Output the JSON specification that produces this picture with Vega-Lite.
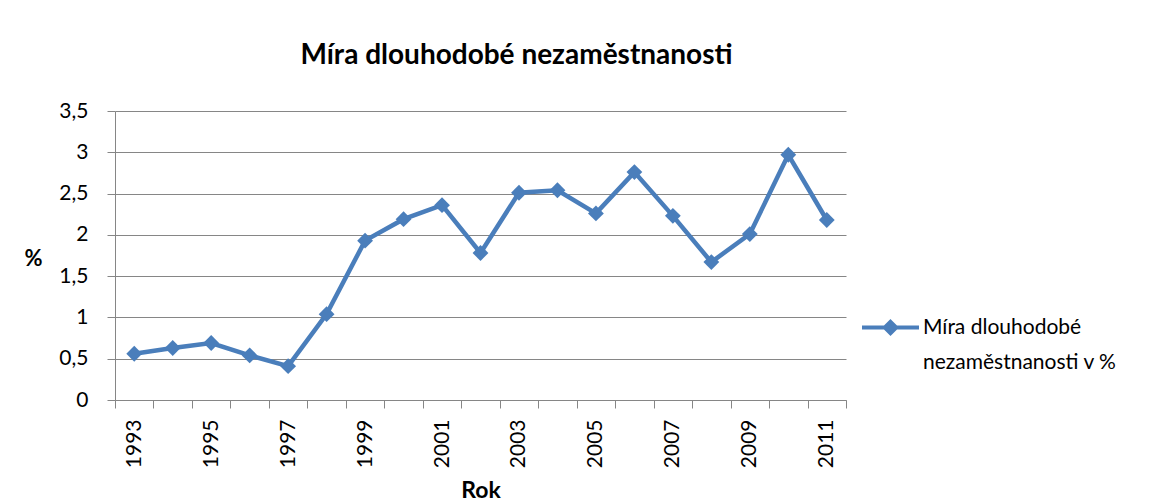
{
  "$schema": "https://vega.github.io/schema/vega-lite/v6.json",
  "width": 731,
  "height": 289,
  "autosize": "none",
  "padding": {"left": 115, "top": 111, "right": 303, "bottom": 103},
  "background": "white",
  "config": {
    "view": {"stroke": null},
    "font": "Lato",
    "style": {"guide-label": {"lineHeight": 35}}
  },
  "title": {
    "text": "Míra dlouhodobé nezaměstnanosti",
    "font": "Lato",
    "fontSize": 28,
    "fontWeight": "bold",
    "color": "#000000",
    "anchor": "middle",
    "frame": "group",
    "dx": 36,
    "offset": 30
  },
  "data": {
    "values": [
      {"rok": 1993, "hodnota": 0.56, "serie": "Míra dlouhodobé nezaměstnanosti v %"},
      {"rok": 1994, "hodnota": 0.63, "serie": "Míra dlouhodobé nezaměstnanosti v %"},
      {"rok": 1995, "hodnota": 0.69, "serie": "Míra dlouhodobé nezaměstnanosti v %"},
      {"rok": 1996, "hodnota": 0.54, "serie": "Míra dlouhodobé nezaměstnanosti v %"},
      {"rok": 1997, "hodnota": 0.41, "serie": "Míra dlouhodobé nezaměstnanosti v %"},
      {"rok": 1998, "hodnota": 1.04, "serie": "Míra dlouhodobé nezaměstnanosti v %"},
      {"rok": 1999, "hodnota": 1.93, "serie": "Míra dlouhodobé nezaměstnanosti v %"},
      {"rok": 2000, "hodnota": 2.19, "serie": "Míra dlouhodobé nezaměstnanosti v %"},
      {"rok": 2001, "hodnota": 2.36, "serie": "Míra dlouhodobé nezaměstnanosti v %"},
      {"rok": 2002, "hodnota": 1.78, "serie": "Míra dlouhodobé nezaměstnanosti v %"},
      {"rok": 2003, "hodnota": 2.51, "serie": "Míra dlouhodobé nezaměstnanosti v %"},
      {"rok": 2004, "hodnota": 2.54, "serie": "Míra dlouhodobé nezaměstnanosti v %"},
      {"rok": 2005, "hodnota": 2.26, "serie": "Míra dlouhodobé nezaměstnanosti v %"},
      {"rok": 2006, "hodnota": 2.76, "serie": "Míra dlouhodobé nezaměstnanosti v %"},
      {"rok": 2007, "hodnota": 2.23, "serie": "Míra dlouhodobé nezaměstnanosti v %"},
      {"rok": 2008, "hodnota": 1.67, "serie": "Míra dlouhodobé nezaměstnanosti v %"},
      {"rok": 2009, "hodnota": 2.01, "serie": "Míra dlouhodobé nezaměstnanosti v %"},
      {"rok": 2010, "hodnota": 2.97, "serie": "Míra dlouhodobé nezaměstnanosti v %"},
      {"rok": 2011, "hodnota": 2.18, "serie": "Míra dlouhodobé nezaměstnanosti v %"}
    ]
  },
  "mark": {
    "type": "line",
    "strokeWidth": 4.5,
    "point": {"shape": "diamond", "size": 250, "filled": true, "opacity": 1}
  },
  "encoding": {
    "x": {
      "field": "rok",
      "type": "ordinal",
      "scale": {"type": "band", "paddingInner": 0, "paddingOuter": 0},
      "axis": {
        "title": "Rok",
        "titleFont": "Lato",
        "titleFontSize": 23,
        "titleFontWeight": "bold",
        "titleColor": "#000000",
        "titleBaseline": "middle",
        "titleY": 90,
        "labelAngle": -90,
        "labelAlign": "right",
        "labelBaseline": "middle",
        "labelFont": "Lato",
        "labelFontSize": 21,
        "labelColor": "#000000",
        "labelPadding": 11,
        "labelExpr": "datum.value % 2 == 1 ? datum.label : ''",
        "tickBand": "extent",
        "tickSize": 8,
        "tickColor": "#868686",
        "domainColor": "#868686",
        "grid": false
      }
    },
    "y": {
      "field": "hodnota",
      "type": "quantitative",
      "scale": {"domain": [0, 3.5], "nice": false, "zero": true},
      "axis": {
        "values": [0, 0.5, 1, 1.5, 2, 2.5, 3, 3.5],
        "labelExpr": "replace(format(datum.value, '.1~f'), '.', ',')",
        "labelFont": "Lato",
        "labelFontSize": 21,
        "labelColor": "#000000",
        "labelPadding": 19,
        "tickSize": 8,
        "tickColor": "#868686",
        "domainColor": "#868686",
        "grid": true,
        "gridColor": "#868686",
        "gridWidth": 1,
        "title": "%",
        "titleFont": "Lato",
        "titleFontSize": 22,
        "titleFontWeight": "bold",
        "titleColor": "#000000",
        "titleAngle": 0,
        "titleAlign": "center",
        "titleBaseline": "middle",
        "titleX": -82,
        "titleY": 147
      }
    },
    "color": {
      "field": "serie",
      "type": "nominal",
      "scale": {"range": ["#4A7EBB"]},
      "legend": {
        "title": null,
        "orient": "none",
        "legendX": 745,
        "legendY": 186,
        "symbolType": "M-1,0L1,0M0,-0.2L0.2,0L0,0.2L-0.2,0Z",
        "symbolSize": 3249,
        "symbolStrokeWidth": 4,
        "symbolStrokeColor": "#4A7EBB",
        "symbolFillColor": "#4A7EBB",
        "symbolOffset": 0,
        "labelOffset": 2,
        "labelFont": "Lato",
        "labelFontSize": 21,
        "labelColor": "#000000",
        "labelLimit": 400,
        "labelBaseline": "middle",
        "labelExpr": "['Míra dlouhodobé', 'nezaměstnanosti v %']"
      }
    }
  }
}
